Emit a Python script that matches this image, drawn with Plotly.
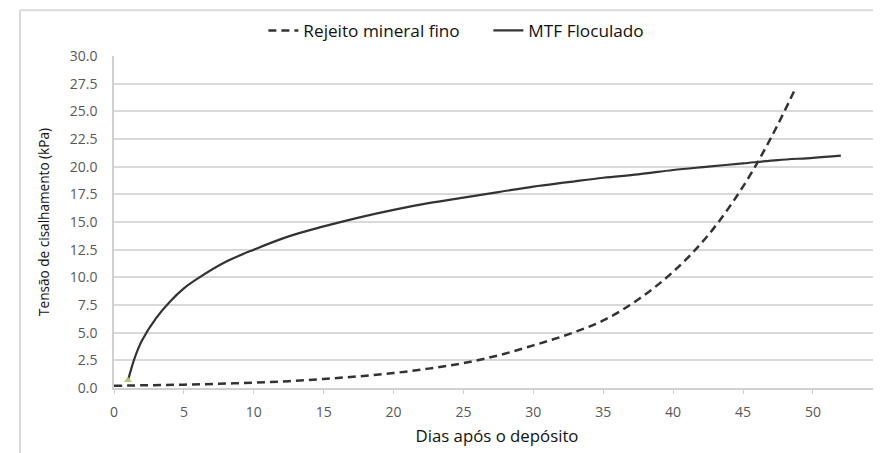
import plotly.graph_objects as go

# Rejeito mineral fino (dashed)
rej_x = [0, 2.5, 5, 7.5, 10, 12.5, 15, 17.5, 20, 22.5, 25, 27.5, 30, 32.5, 35, 37.5, 40, 42.5, 45, 47, 48.8]
rej_y = [0.2, 0.25, 0.3, 0.38, 0.48, 0.62, 0.82, 1.05, 1.35, 1.75, 2.25, 2.95, 3.85, 4.85, 6.1, 8.0, 10.5, 13.8, 18.2, 22.6, 27.2]

# MTF Floculado (solid)
mtf_x = [1, 1.5, 2, 3, 4, 5, 6, 8, 10, 12.5, 15, 17.5, 20, 22.5, 25, 27.5, 30, 32.5, 35, 37.5, 40, 42.5, 45, 47.5, 50, 52]
mtf_y = [0.7, 2.8, 4.3, 6.3, 7.8, 9.0, 9.9, 11.4, 12.5, 13.7, 14.6, 15.4, 16.1, 16.7, 17.2, 17.7, 18.2, 18.6, 19.0, 19.3, 19.7, 20.0, 20.3, 20.6, 20.8, 21.0]

y_ticks = [0, 2.5, 5, 7.5, 10, 12.5, 15, 17.5, 20, 22.5, 25, 27.5, 30]
x_ticks = [0, 5, 10, 15, 20, 25, 30, 35, 40, 45, 50, 55]

fig = go.Figure()
fig.add_trace(go.Scatter(x=rej_x, y=rej_y, mode="lines", name="Rejeito mineral fino",
                         line=dict(color="#333333", width=2.5, dash="8px,5px", shape="spline")))
fig.add_trace(go.Scatter(x=mtf_x, y=mtf_y, mode="lines", name="MTF Floculado",
                         line=dict(color="#333333", width=2.2, shape="spline")))
# small start marker on the MTF curve
fig.add_trace(go.Scatter(x=mtf_x[:1], y=mtf_y[:1], mode="markers", showlegend=False,
                         marker=dict(symbol="triangle-up", size=7, color="#b5c96a")))

FONT = "Open Sans, Liberation Sans, sans-serif"
tickfont = dict(family=FONT, size=14, color="#595959")
fig.update_layout(
    width=881, height=453,
    margin=dict(l=106, r=9, t=48, b=73, autoexpand=False),
    paper_bgcolor="white", plot_bgcolor="white",
    font=dict(family=FONT, color="#000000"),
    legend=dict(orientation="h", x=0.195, xanchor="left", y=1.076, yanchor="middle",
                font=dict(size=17.2, color="#111111"), bgcolor="rgba(0,0,0,0)",
                entrywidth=180, traceorder="normal"),
    xaxis=dict(range=[0, 54.8], tickvals=x_ticks, ticktext=[str(v) for v in x_ticks],
               showgrid=False, zeroline=False, showline=True, linecolor="#d0d0d0", linewidth=1.5,
               ticks="outside", ticklen=4, tickcolor="#d0d0d0", tickfont=tickfont,
               ticklabelstandoff=6, automargin=False,
               title=dict(text="Dias após o depósito", font=dict(size=16.8, color="#111111"), standoff=11)),
    yaxis=dict(range=[0, 30], tickvals=y_ticks, ticktext=[f"{v:.1f}" for v in y_ticks],
               showgrid=True, gridcolor="#d9d9d9", gridwidth=1.5, zeroline=False,
               showline=True, linecolor="#d0d0d0", linewidth=1.5, ticks="", tickfont=tickfont,
               ticklabelstandoff=12, automargin=False,
               title=dict(text="Tensão de cisalhamento (kPa)", font=dict(size=13.6, color="#111111"), standoff=17)),
    shapes=[
        dict(type="line", xref="paper", yref="paper", x0=-0.1227, x1=-0.1227, y0=-0.3, y1=1.1377,
             line=dict(color="#d9d9d9", width=2)),
        dict(type="line", xref="paper", yref="paper", x0=-0.1227, x1=1.02, y0=1.1377, y1=1.1377,
             line=dict(color="#d9d9d9", width=2)),
    ],
)

fig.write_html("out.html")
